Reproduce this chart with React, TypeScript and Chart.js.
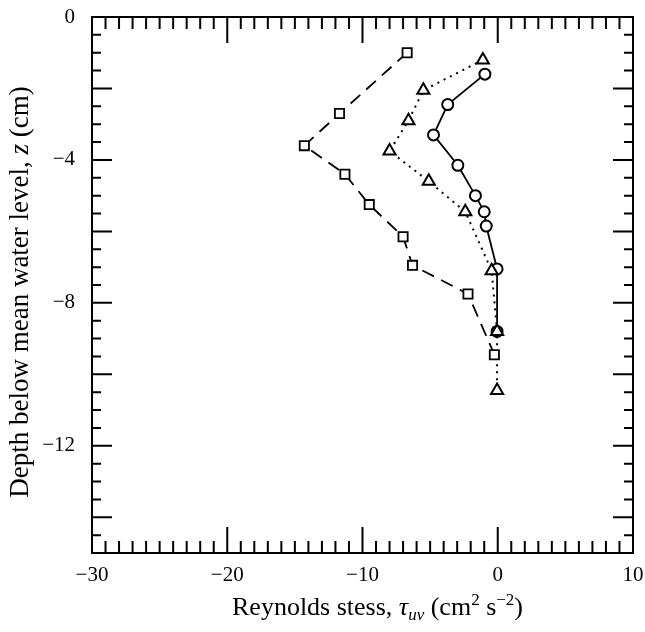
import React, { useEffect, useRef } from "react";
import { Chart, registerables } from "chart.js";

Chart.register(...registerables);

// Reynolds stress (x, cm^2 s^-2) vs depth z (cm)
const SQUARE_X = [-6.7, -11.7, -14.3, -11.3, -9.5, -7.0, -6.3, -2.2, -0.25];
const SQUARE_Z = [-1.0, -2.7, -3.6, -4.4, -5.25, -6.15, -6.95, -7.75, -9.45];
const TRIANGLE_X = [-1.1, -5.5, -6.6, -8.0, -5.1, -2.4, -0.45, -0.05, -0.05];
const TRIANGLE_Z = [-1.2, -2.05, -2.9, -3.75, -4.6, -5.45, -7.1, -8.8, -10.45];
const CIRCLE_X = [-0.95, -3.7, -4.75, -2.95, -1.65, -1.0, -0.85, -0.05, -0.05];
const CIRCLE_Z = [-1.6, -2.45, -3.3, -4.15, -5.0, -5.45, -5.85, -7.05, -8.8];

const X_TICKS = [-30, -20, -10, 0, 10];
const Y_TICKS = [0, -4, -8, -12];
const X_MIN = -30;
const X_MAX = 10;
const Y_MIN = -15;
const Y_MAX = 0;

const SERIF = "'Liberation Serif', 'DejaVu Serif', serif";

const fmt = (v: number) => (v < 0 ? "\u2212" + Math.abs(v) : String(v));

const pts = (xs: number[], ys: number[]) => xs.map((x, i) => ({ x, y: ys[i] }));

const framePlugin = {
  id: "frameTicksTitles",
  afterDraw(chart: any) {
    const { ctx, chartArea, scales } = chart;
    const { left, right, top, bottom } = chartArea;
    const xs = scales.x;
    const ys = scales.y;
    ctx.save();
    ctx.strokeStyle = "#000";
    ctx.lineWidth = 2;
    ctx.strokeRect(left, top, right - left, bottom - top);
    ctx.lineWidth = 2;
    ctx.beginPath();
    for (let v = X_MIN; v <= X_MAX; v += 1) {
      const px = xs.getPixelForValue(v);
      const len = v % 10 === 0 ? 26 : 12;
      ctx.moveTo(px, bottom);
      ctx.lineTo(px, bottom - len);
      ctx.moveTo(px, top);
      ctx.lineTo(px, top + len);
    }
    for (let k = 0; k <= (Y_MAX - Y_MIN) * 2; k++) {
      const v = Y_MAX - k * 0.5;
      const py = ys.getPixelForValue(v);
      const len = v % 2 === 0 ? 20 : 9;
      ctx.moveTo(left, py);
      ctx.lineTo(left + len, py);
      ctx.moveTo(right, py);
      ctx.lineTo(right - len, py);
    }
    ctx.stroke();

    // X title with rich text
    ctx.fillStyle = "#000";
    ctx.textBaseline = "alphabetic";
    ctx.textAlign = "left";
    const big = 26;
    const small = 17;
    const segs = [
      { t: "Reynolds stess, ", f: `${big}px ${SERIF}`, dy: 0 },
      { t: "\u03C4", f: `italic ${big}px ${SERIF}`, dy: 0 },
      { t: "uv", f: `italic ${small}px ${SERIF}`, dy: 5 },
      { t: " (cm", f: `${big}px ${SERIF}`, dy: 0 },
      { t: "2", f: `${small}px ${SERIF}`, dy: -10 },
      { t: " s", f: `${big}px ${SERIF}`, dy: 0 },
      { t: "\u22122", f: `${small}px ${SERIF}`, dy: -10 },
      { t: ")", f: `${big}px ${SERIF}`, dy: 0 },
    ];
    let total = 0;
    for (const s of segs) {
      ctx.font = s.f;
      total += ctx.measureText(s.t).width;
    }
    let cx = (left + right) / 2 - total / 2 + 15;
    const baseY = 615;
    for (const s of segs) {
      ctx.font = s.f;
      ctx.fillText(s.t, cx, baseY + s.dy);
      cx += ctx.measureText(s.t).width;
    }

    // Y title
    const ybig = 27;
    const ysegs = [
      { t: "Depth below mean water level, ", f: `${ybig}px ${SERIF}` },
      { t: "z", f: `italic ${ybig}px ${SERIF}` },
      { t: " (cm)", f: `${ybig}px ${SERIF}` },
    ];
    let ytotal = 0;
    for (const s of ysegs) {
      ctx.font = s.f;
      ytotal += ctx.measureText(s.t).width;
    }
    ctx.translate(28, 292);
    ctx.rotate(-Math.PI / 2);
    let cy = -ytotal / 2;
    for (const s of ysegs) {
      ctx.font = s.f;
      ctx.fillText(s.t, cy, 0);
      cy += ctx.measureText(s.t).width;
    }
    ctx.restore();
  },
};

export default function App() {
  const ref = useRef<HTMLCanvasElement | null>(null);
  useEffect(() => {
    if (!ref.current) return;
    const chart = new Chart(ref.current, {
      type: "scatter",
      data: {
        datasets: [
          {
            label: "squares",
            data: pts(SQUARE_X, SQUARE_Z),
            showLine: true,
            borderColor: "#000",
            borderWidth: 1.8,
            borderDash: [13, 8],
            pointStyle: "rect",
            pointRadius: 6.5,
            pointBorderWidth: 1.8,
            pointBorderColor: "#000",
            pointBackgroundColor: "#fff",
          },
          {
            label: "triangles",
            data: pts(TRIANGLE_X, TRIANGLE_Z),
            showLine: true,
            borderColor: "#000",
            borderWidth: 2,
            borderDash: [2, 5],
            pointStyle: "triangle",
            pointRadius: 7,
            pointBorderWidth: 2,
            pointBorderColor: "#000",
            pointBackgroundColor: "#fff",
          },
          {
            label: "circles",
            data: pts(CIRCLE_X, CIRCLE_Z),
            showLine: true,
            borderColor: "#000",
            borderWidth: 1.8,
            pointStyle: "circle",
            pointRadius: 5.5,
            pointBorderWidth: 2,
            pointBorderColor: "#000",
            pointBackgroundColor: "#fff",
          },
        ],
      },
      options: {
        responsive: false,
        animation: false,
        layout: { padding: { top: 17, right: 12, left: 0, bottom: 0 } },
        plugins: { legend: { display: false }, tooltip: { enabled: false } },
        scales: {
          x: {
            type: "linear",
            min: X_MIN,
            max: X_MAX,
            grid: { display: false },
            border: { display: false },
            afterBuildTicks: (s: any) => {
              s.ticks = X_TICKS.map((v) => ({ value: v }));
            },
            afterFit: (s: any) => {
              s.height = 79;
              s.paddingLeft = 0;
              s.paddingRight = 0;
            },
            ticks: {
              color: "#000",
              padding: 2,
              font: { family: SERIF, size: 21 },
              callback: (v: any) => fmt(Number(v)),
            },
          },
          y: {
            type: "linear",
            min: Y_MIN,
            max: Y_MAX,
            grid: { display: false },
            border: { display: false },
            afterBuildTicks: (s: any) => {
              s.ticks = Y_TICKS.map((v) => ({ value: v }));
            },
            afterFit: (s: any) => {
              s.width = 92;
              s.paddingTop = 0;
              s.paddingBottom = 0;
            },
            ticks: {
              color: "#000",
              padding: 9,
              font: { family: SERIF, size: 21 },
              callback: (v: any) => fmt(Number(v)),
            },
          },
        },
      },
      plugins: [framePlugin],
    } as any);
    return () => chart.destroy();
  }, []);
  return (
    <div style={{ position: "fixed", left: 0, top: 0, width: 645, height: 632, background: "#fff" }}>
      <canvas ref={ref} width={645} height={632} style={{ display: "block" }} />
    </div>
  );
}
